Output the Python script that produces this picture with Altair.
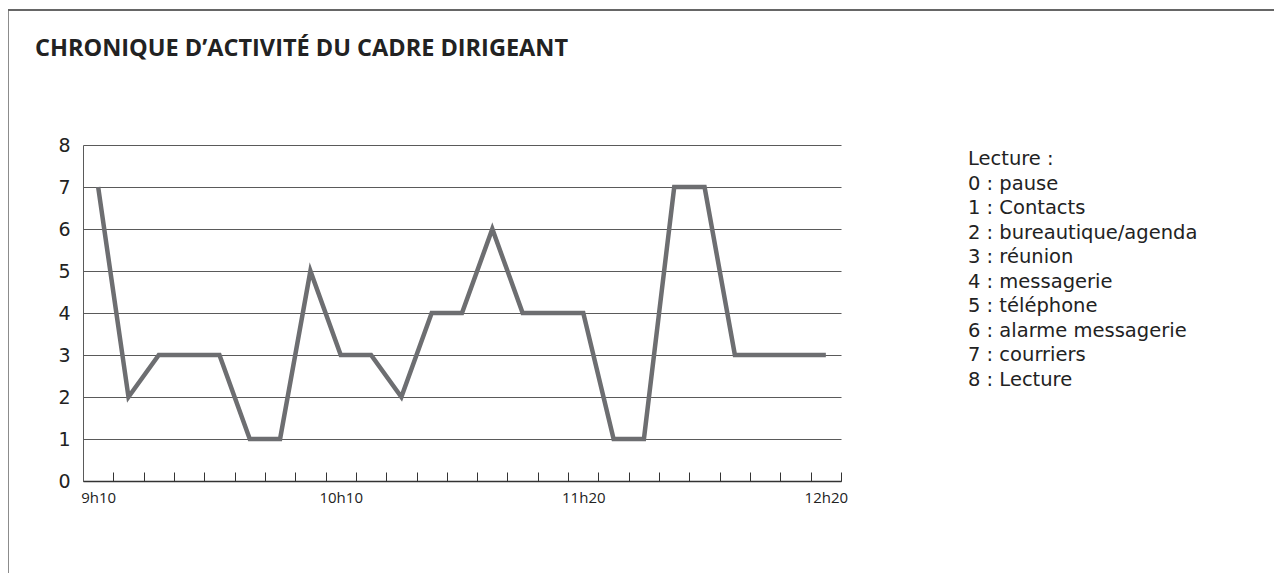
import altair as alt
import pandas as pd

# ---- data ----
activity = [7, 2, 3, 3, 3, 1, 1, 5, 3, 3, 2, 4, 4, 6, 4, 4, 4, 1, 1, 7, 7, 3, 3, 3, 3]
slots = list(range(len(activity)))
x_label_slots = [0, 8, 16, 24]
x_label_texts = ["9h10", "10h10", "11h20", "12h20"]
y_ticks = [0, 1, 2, 3, 4, 5, 6, 7, 8]
title_text = "CHRONIQUE D’ACTIVITÉ DU CADRE DIRIGEANT"
legend_lines = [
    "Lecture :",
    "0 : pause",
    "1 : Contacts",
    "2 : bureautique/agenda",
    "3 : réunion",
    "4 : messagerie",
    "5 : téléphone",
    "6 : alarme messagerie",
    "7 : courriers",
    "8 : Lecture",
]

df = pd.DataFrame({"slot": slots, "activity": activity})
boundaries = [s - 0.5 for s in slots] + [slots[-1] + 0.5]

label_expr = ""
for s, t in zip(x_label_slots, x_label_texts):
    label_expr += f"datum.value === {s} ? '{t}' : "
label_expr += "''"

FONT = "Open Sans"
LFONT = "DejaVu Sans"
W, H = 758, 336

xscale = alt.Scale(domain=[boundaries[0], boundaries[-1]], nice=False, zero=False)
yscale = alt.Scale(domain=[0, 8], nice=False)

line = alt.Chart(df).mark_line(color="#6d6e71", strokeWidth=4.5, strokeJoin="miter").encode(
    x=alt.X("slot:Q", scale=xscale, title=None,
            axis=alt.Axis(orient="bottom", values=x_label_slots, labelExpr=label_expr,
                          ticks=False, grid=False, domain=True, domainColor="#333333",
                          domainWidth=1.5, labelFont=FONT, labelFontSize=15,
                          labelColor="#222222", labelPadding=9)),
    y=alt.Y("activity:Q", scale=yscale, title=None,
            axis=alt.Axis(values=y_ticks, format="d", grid=True, gridColor="#5a5a5a",
                          gridWidth=1.2, ticks=False, domain=True, domainColor="#5a5a5a",
                          labelFont=LFONT, labelFontSize=19, labelColor="#222222",
                          labelPadding=13)),
)

tick_axis = alt.Chart(df).mark_point(opacity=0).encode(
    x=alt.X("slot:Q", scale=xscale, title=None,
            axis=alt.Axis(orient="top", offset=-H, values=boundaries, labels=False,
                          domain=False, ticks=True, tickSize=9, tickColor="#333333",
                          tickWidth=1, grid=False)),
)

one = alt.Data(values=[{"k": 1}])
frame_top = alt.Chart(one).mark_rule(color="#666666", strokeWidth=2).encode(
    x=alt.value(-75), x2=alt.value(1199), y=alt.value(-135))
frame_left = alt.Chart(one).mark_rule(color="#666666", strokeWidth=1.5).encode(
    x=alt.value(-75), y=alt.value(-135), y2=alt.value(428))

title = alt.Chart(one).mark_text(align="left", baseline="alphabetic", font=FONT,
                                 fontSize=23.5, fontWeight="bold", color="#222222").encode(
    x=alt.value(-48), y=alt.value(-89), text=alt.value(title_text))

legend = alt.Chart(one).mark_text(align="left", baseline="top", font=LFONT, fontSize=19.5,
                                  lineHeight=24.5, color="#222222").encode(
    x=alt.value(885), y=alt.value(5), text=alt.value(legend_lines))

chart = alt.layer(line, tick_axis, frame_top, frame_left, title, legend).resolve_axis(
    x="independent"
).properties(
    width=W,
    height=H,
    autosize=alt.AutoSizeParams(type="none"),
    padding={"left": 75, "top": 137, "right": 433, "bottom": 92},
).configure_view(stroke=None)

chart.save("out.html", embed_options={"renderer": "svg", "actions": False})
